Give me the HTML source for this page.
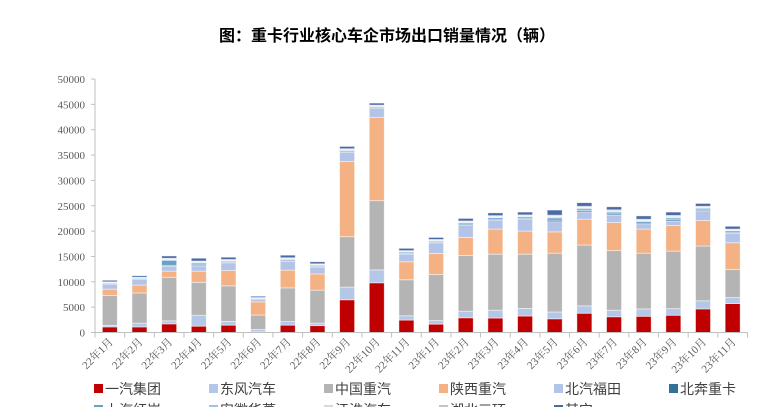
<!DOCTYPE html>
<html><head><meta charset="utf-8">
<style>
body{margin:0;background:#fff;overflow:hidden;}
svg{display:block;}
.t{font-family:"Liberation Serif","Noto Serif CJK SC",serif;font-size:11px;fill:#595959;}
.lg{font-family:"Liberation Sans","Noto Sans CJK SC",sans-serif;font-size:14px;fill:#404040;}
</style></head><body>
<svg id="chart" width="775" height="407" viewBox="0 0 775 407">
<text x="387" y="41" text-anchor="middle" font-family="'Liberation Sans','Noto Sans CJK SC',sans-serif" font-size="16" font-weight="bold" fill="#000">图：重卡行业核心车企市场出口销量情况（辆）</text>
<g id="plot"></g>
</svg>
<script>
const categories=["22年1月","22年2月","22年3月","22年4月","22年5月","22年6月","22年7月","22年8月","22年9月","22年10月","22年11月","23年1月","23年2月","23年3月","23年4月","23年5月","23年6月","23年7月","23年8月","23年9月","23年10月","23年11月"];
const seriesNames=["一汽集团","东风汽车","中国重汽","陕西重汽","北汽福田","北奔重卡","上汽红岩","安徽华菱","江淮汽车","湖北三环","其它"];
const faw=[1100,1100,1700,1250,1450,150,1450,1350,6450,9800,2450,1650,2900,2850,3250,2700,3800,3100,3200,3400,4650,5700];
const dongfeng=[300,750,600,2150,750,450,700,500,2500,2550,850,700,1300,1550,1500,1350,1450,1300,1450,1300,1600,1200];
const sinotruk=[5900,5950,8600,6500,7000,2850,6650,6500,9950,13650,7100,9100,11000,11050,10700,11600,12000,11750,11000,11350,10800,5550];
const shaanxi=[1250,1550,1200,2200,3050,2600,3500,3200,14800,16450,3550,4150,3550,4950,4550,4200,5100,5550,4750,5050,5050,5250];
const foton=[1000,1150,950,1050,1500,500,1700,1350,1800,1750,1500,2100,2450,1750,2300,2000,1450,1450,900,900,1900,1850];
const beiben=[100,100,200,200,150,100,150,150,150,150,150,150,200,200,200,300,250,250,250,250,200,200];
const hongyan=[150,150,1000,350,200,100,250,200,250,200,250,200,250,300,300,450,350,350,350,350,300,300];
const hualing=[50,50,150,150,100,50,100,100,100,100,100,100,100,150,150,200,200,150,150,150,150,100];
const jac=[50,50,100,100,100,50,100,100,100,100,100,100,100,100,100,150,100,100,100,150,100,100];
const sanhuan=[100,50,150,150,100,50,150,100,150,100,100,100,150,150,150,200,200,200,200,200,150,150];
const others=[300,300,450,550,450,250,500,400,450,400,450,400,500,550,550,1000,700,600,650,650,550,550];
const yTicks=[0,5000,10000,15000,20000,25000,30000,35000,40000,45000,50000];

const series=[faw,dongfeng,sinotruk,shaanxi,foton,beiben,hongyan,hualing,jac,sanhuan,others];
const colors=["#c00000","#b4c7e7","#b4b4b4","#f4b183","#b4c3e8","#31729c","#6aa1c8","#9dc3e6","#d9d9d9","#c4c4c4","#4a69a5"];
const keys=["faw","dongfeng","sinotruk","shaanxi","foton","beiben","hongyan","hualing","jac","sanhuan","others"];
const NS="http://www.w3.org/2000/svg";
const g=document.getElementById('plot');
const L=95,R=747.5,T=79,B=332.5,yMax=50000;
const bw=(R-L)/categories.length;
function y(v){return B-(v/yMax)*(B-T);}
function x(i){return L+bw*(i+0.5);}
function mk(t,a){const e=document.createElementNS(NS,t);for(const k in a)e.setAttribute(k,a[k]);g.appendChild(e);return e;}
let ax=mk('line',{x1:L,y1:T,x2:L,y2:B,stroke:'#bfbfbf','stroke-width':1});


yTicks.forEach(v=>{
  const tk=mk('line',{x1:L-4,y1:y(v),x2:L,y2:y(v),stroke:'#bfbfbf'});
  
  
  const t=mk('text',{x:L-10,y:y(v)+4,'text-anchor':'end',class:'t'});
  t.textContent=v;
  
  
});
categories.forEach((c,i)=>{
  let cum=0;
  series.forEach((s,k)=>{
    const v=s[i];
    const r=mk('rect',{x:x(i)-7.5,y:y(cum+v),width:15,height:y(cum)-y(cum+v),fill:colors[k],stroke:'#ffffff','stroke-opacity':0.6,'stroke-width':0.8});
    
    
    cum+=v;
  });
});
let xa=mk('line',{x1:L,y1:B,x2:R,y2:B,stroke:'#bfbfbf'});


categories.forEach((c,i)=>{
  const tx=L+bw*i;
  const tk=mk('line',{x1:tx,y1:B,x2:tx,y2:B+5,stroke:'#bfbfbf'});
  
  
  const t=mk('text',{x:x(i)+4,y:B+10,'text-anchor':'end',class:'t',transform:'rotate(-45 '+(x(i)+4)+' '+(B+10)+')'});
  t.textContent=c;
  
  
});
let et=mk('line',{x1:R,y1:B,x2:R,y2:B+5,stroke:'#bfbfbf'});


seriesNames.forEach((n,k)=>{
  const row=k<6?0:1, col=k<6?k:k-6;
  const lx=94+col*115, ly=row?414:393;
  const r=mk('rect',{x:lx,y:ly-9,width:9,height:9,fill:colors[k]});
  
  
  const t=mk('text',{x:lx+11,y:ly+1,class:'lg'});
  t.textContent=n;
  
  
});
</script>
</body></html>
